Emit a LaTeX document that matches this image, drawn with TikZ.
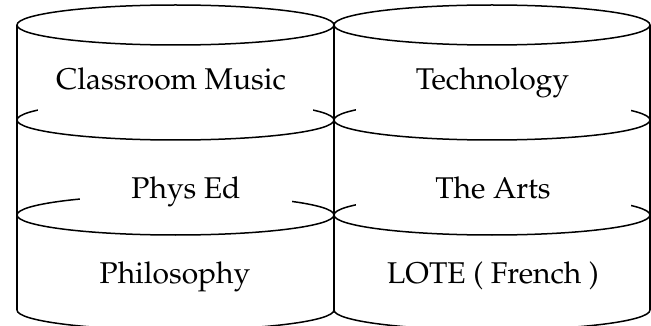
\documentclass[tikz,border=0pt]{standalone}
\usepackage[T1]{fontenc}
\usepackage{mathpazo}
\tikzset{subj/.style={anchor=base, inner sep=0pt, font=\fontsize{30}{36}\selectfont}}
\begin{document}
\begin{tikzpicture}[x=1pt,y=-1pt,line width=1.5pt]
  \useasboundingbox (0,0) rectangle (651,326);

  % left stack
  \draw (175.5,25)  ellipse[x radius=158.5, y radius=20];
  \draw (175.5,120) ellipse[x radius=158.5, y radius=20];
  \draw (175.5,215) ellipse[x radius=158.5, y radius=20];
  \draw (17,310) arc[start angle=180, end angle=0, x radius=158.5, y radius=20];
  \draw (17,25)--(17,310);
  \draw (334,25)--(334,310);

  % right stack
  \draw (492,25)  ellipse[x radius=158, y radius=20];
  \draw (492,120) ellipse[x radius=158, y radius=20];
  \draw (492,215) ellipse[x radius=158, y radius=20];
  \draw (334,310) arc[start angle=180, end angle=0, x radius=158, y radius=20];
  \draw (650,25)--(650,310);

  % white text boxes over the back arcs
  \fill[white] (38,50) rectangle (313,115);
  \fill[white] (80,150) rectangle (292,210);
  \fill[white] (356,50) rectangle (631,115);
  \fill[white] (356,150) rectangle (631,210);

  \node[subj] (music) at (171,90) {Classroom Music};
  \node[subj] (physed) at (186,198) {Phys Ed};
  \node[subj] (philo) at (175,283) {Philosophy};
  \node[subj] (tech) at (492.5,90) {Technology};
  \node[subj] (arts) at (493,198) {The Arts};
  \node[subj] (lote) at (493,283) {LOTE ( French )};

\end{tikzpicture}
\end{document}
